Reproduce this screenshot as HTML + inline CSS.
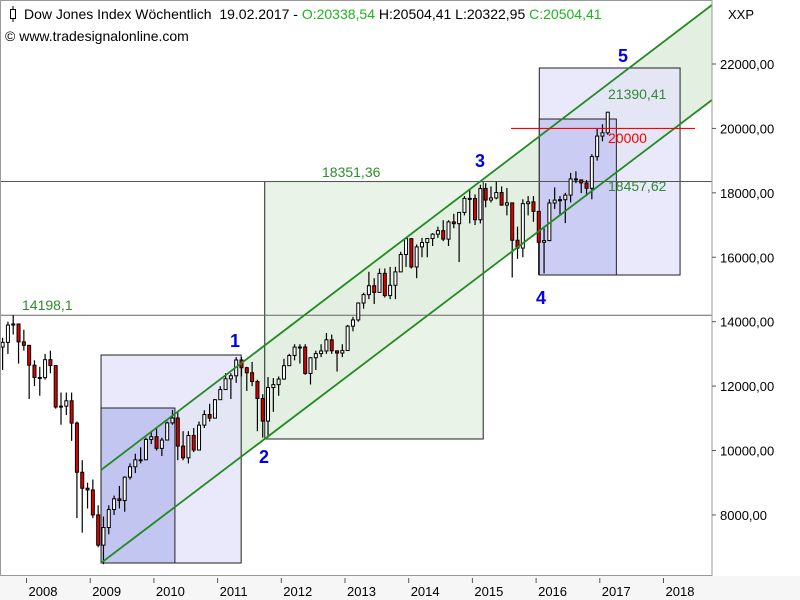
<!DOCTYPE html>
<html><head><meta charset="utf-8"><style>
body{margin:0;background:#fff;}
svg{display:block;font-family:"Liberation Sans",sans-serif;}
</style></head><body>
<svg id="chart" width="800" height="600" viewBox="0 0 800 600" xmlns="http://www.w3.org/2000/svg">
<rect x="0" y="0" width="800" height="600" fill="#fff"/>
<rect x="0" y="576" width="800" height="24" fill="#f6f6f6"/>
<g id="layer"></g>
</svg>
<script>
const startYear = 2007, startMonth = 7;
const closes = [13358,13896,13930,13372,13265,
12650,12266,12263,12820,12638,11350,11378,11544,10851,9325,8829,8776,
8001,7063,7609,8168,8500,8447,9172,9496,9712,9713,10345,10428,
10067,10325,10857,11009,10137,9774,10466,10015,10788,11118,11006,11578,
11892,12226,12320,12811,12570,12414,12143,11614,10913,11955,12046,12218,
12633,12952,13212,13214,12393,12880,13009,13091,13437,13096,13026,13104,
13861,14054,14579,14840,15116,14910,15500,14810,15130,15546,16086,16577,
15699,16322,16458,16581,16717,16827,16563,17098,17043,17391,17828,17823,
17165,18133,17776,17841,18011,17620,17690,16528,16285,17664,17720,17425,
16466,16517,17685,17774,17787,17930,18432,18401,18308,18142,19124,19763,
19864,20504];
const highs = [13500,14000,14198,13800,13750,
13280,12800,12600,13000,13100,12650,11800,11800,11800,10900,9700,9000,
9100,8300,7950,8300,8600,8900,9200,9600,9900,10100,10400,10600,
10730,10400,10900,11260,11200,10600,10600,10700,10900,11250,11450,11600,
12000,12400,12400,12900,12900,12600,12750,12200,11750,12280,12250,12300,
12850,13000,13300,13300,13300,12900,13100,13300,13650,13600,13100,13300,
13900,14150,14600,14900,15550,15350,15650,15650,15700,15700,16170,16600,
16600,16400,16600,16600,16750,16950,17150,17150,17350,17400,17900,18100,
17950,18250,18300,18200,18350,18200,18150,17700,16950,17800,17900,17900,
17400,16900,17800,18170,17900,18000,18620,18670,18400,18400,19200,19990,
20130,20504];
const lows = [12500,13000,13600,12700,13100,
11600,12000,11700,12200,12400,11300,10800,11100,10300,7900,7450,8200,
7900,7000,6470,7400,8000,8200,8100,9100,9300,9600,9700,10200,
10000,9830,10400,10800,9700,9700,9600,9950,10000,10700,10900,11000,
11600,11900,11600,12100,12300,11850,12000,10600,10400,10400,11200,11700,
12200,12700,12800,12700,12350,12050,12500,12900,13000,13000,12450,12900,
13100,13700,14000,14400,14700,14550,14900,14750,14700,14700,15600,15700,
15650,15350,16000,16000,16350,16600,16500,16350,16900,15850,17300,17050,
17000,17050,17550,17700,17800,17600,17300,15370,15950,16000,17300,17100,
15450,15500,16500,17500,17300,17060,17700,18300,17990,17900,17800,19000,
19600,19800];
const firstOpen = 13212;
const yTicks = [8000,10000,12000,14000,16000,18000,20000,22000];
const yTickLabels = ["8000,00","10000,00","12000,00","14000,00","16000,00","18000,00","20000,00","22000,00"];
const xYears = [2008,2009,2010,2011,2012,2013,2014,2015,2016,2017,2018];
const boxes = [[2009.17,6508,2011.37,12966,"#e4e4fa"],[2009.17,6508,2010.33,11320,"#b9bdef"],[2011.74,10358,2015.17,18351,"#e3efe0"],[2016.05,15449,2018.26,21876,"#e4e4fa"],[2016.05,15449,2017.26,20292,"#c3c6f2"]];
const channelUpper = [[2009.17,9395],[2018.76,23832]];
const channelLower = [[2009.17,6508],[2018.76,20882]];
const hLevels = [14198.1,18351.36];

const X = t => 26.5 + 63.7*(t-2008);
const Y = v => 64 + (22000-v)*0.03221;
const NS = "http://www.w3.org/2000/svg";
const layer = document.getElementById('layer');
function mk(tag, attrs, parent){const e=document.createElementNS(NS,tag);for(const k in attrs)e.setAttribute(k,attrs[k]);(parent||layer).appendChild(e);return e;}

const cf = mk('polygon',{points:`${X(channelUpper[0][0])},${Y(channelUpper[0][1])} ${X(channelUpper[1][0])},${Y(channelUpper[1][1])} ${X(channelLower[1][0])},${Y(channelLower[1][1])} ${X(channelLower[0][0])},${Y(channelLower[0][1])}`,fill:"#e3efe0"});


boxes.forEach((b,i)=>{
 const r = mk('rect',{x:X(b[0]),y:Y(b[3]),width:X(b[2])-X(b[0]),height:Y(b[1])-Y(b[3]),fill:b[4],'fill-opacity':i==2?0.75:0.8,stroke:"#222",'stroke-width':1});
 
 
});
hLevels.forEach((v,i)=>{
 const l = mk('line',{x1:0,x2:712,y1:Y(v),y2:Y(v),stroke:i==0?"#666":"#555",'stroke-width':1});
 
 
});
for(let i=0;i<closes.length;i++){
 const y0 = startYear + Math.floor((startMonth+i)/12), m=(startMonth+i)%12;
 const t = y0 + (m+0.5)/12;
 const o = i==0?firstOpen:closes[i-1], c=closes[i];
 const x = X(t);
 const w = mk('line',{x1:x,x2:x,y1:Y(highs[i]),y2:Y(lows[i]),stroke:"#000",'stroke-width':1.2});
 
 
 const top=Y(Math.max(o,c)), bot=Y(Math.min(o,c));
 const b = mk('rect',{x:x-1.5,y:top,width:3,height:Math.max(1,bot-top),fill:c>=o?"#fff":"#e00000",stroke:"#000",'stroke-width':1});
 
 
}
[channelUpper,channelLower].forEach((c,i)=>{
 const l = mk('line',{x1:X(c[0][0]),y1:Y(c[0][1]),x2:X(c[1][0]),y2:Y(c[1][1]),stroke:"#228b22",'stroke-width':1.8});
 
 
});
const rl = mk('line',{x1:511,x2:695,y1:Y(20000),y2:Y(20000),stroke:"#f00",'stroke-width':1.2});


const cover = mk('rect',{x:712,y:0,width:88,height:576,fill:"#fff"});


const cover2 = mk('rect',{x:0,y:576,width:800,height:24,fill:"#f6f6f6"});


const border = mk('rect',{x:0.5,y:0.5,width:711.5,height:575,fill:"none",stroke:"#999",'stroke-width':1});


yTicks.forEach((v,i)=>{
 const tk = mk('line',{x1:712,x2:716,y1:Y(v),y2:Y(v),stroke:"#555"});
 
 
 const tx = mk('text',{x:720,y:Y(v)+5,'font-size':13,fill:"#000"});
 tx.textContent = yTickLabels[i];
 
 
});
xYears.forEach(yr=>{
 const x=X(yr);
 const tk = mk('line',{x1:x,x2:x,y1:578,y2:583,stroke:"#555"});
 
 
 const tx = mk('text',{x:x+2,y:596,'font-size':13,fill:"#000"});
 tx.textContent = String(yr);
 
 
});
const notes = [["14198,1",22,310,"#2e8b2e",14,"normal"],["18351,36",322,177,"#2e8b2e",14,"normal"],["21390,41",608,99,"#2e8b2e",14,"normal"],["18457,62",608,191,"#2e8b2e",14,"normal"],["20000",608,143,"#f00",14,"normal"],
["1",230,347,"#0000ee",18,"bold"],["2",259,463,"#0000ee",18,"bold"],["3",475,167,"#0000ee",18,"bold"],["4",536,304,"#0000ee",18,"bold"],["5",618,62,"#0000ee",18,"bold"]];
notes.forEach(n=>{
 const tx = mk('text',{x:n[1],y:n[2],'font-size':n[4],'font-weight':n[5],fill:n[3]});
 tx.textContent = n[0];
 
 
});
const xxp = mk('text',{x:728,y:19,'font-size':13,fill:"#000"});
xxp.textContent="XXP";


const ic = mk('g',{});


mk('line',{x1:13,x2:13,y1:6,y2:22,stroke:"#000"},ic);
mk('rect',{x:10.5,y:9.5,width:5,height:9,fill:"#fff",stroke:"#000"},ic);
const title = mk('text',{x:24,y:19,'font-size':14,fill:"#000"});


title.innerHTML = 'Dow Jones Index Wöchentlich&#160; 19.02.2017 - <tspan fill="#1fb41f">O:20338,54</tspan> H:20504,41 L:20322,95 <tspan fill="#1fb41f">C:20504,41</tspan>';
const cp = mk('text',{x:5,y:41,'font-size':14,fill:"#000"});
cp.textContent = "© www.tradesignalonline.com";


</script>
</body></html>
